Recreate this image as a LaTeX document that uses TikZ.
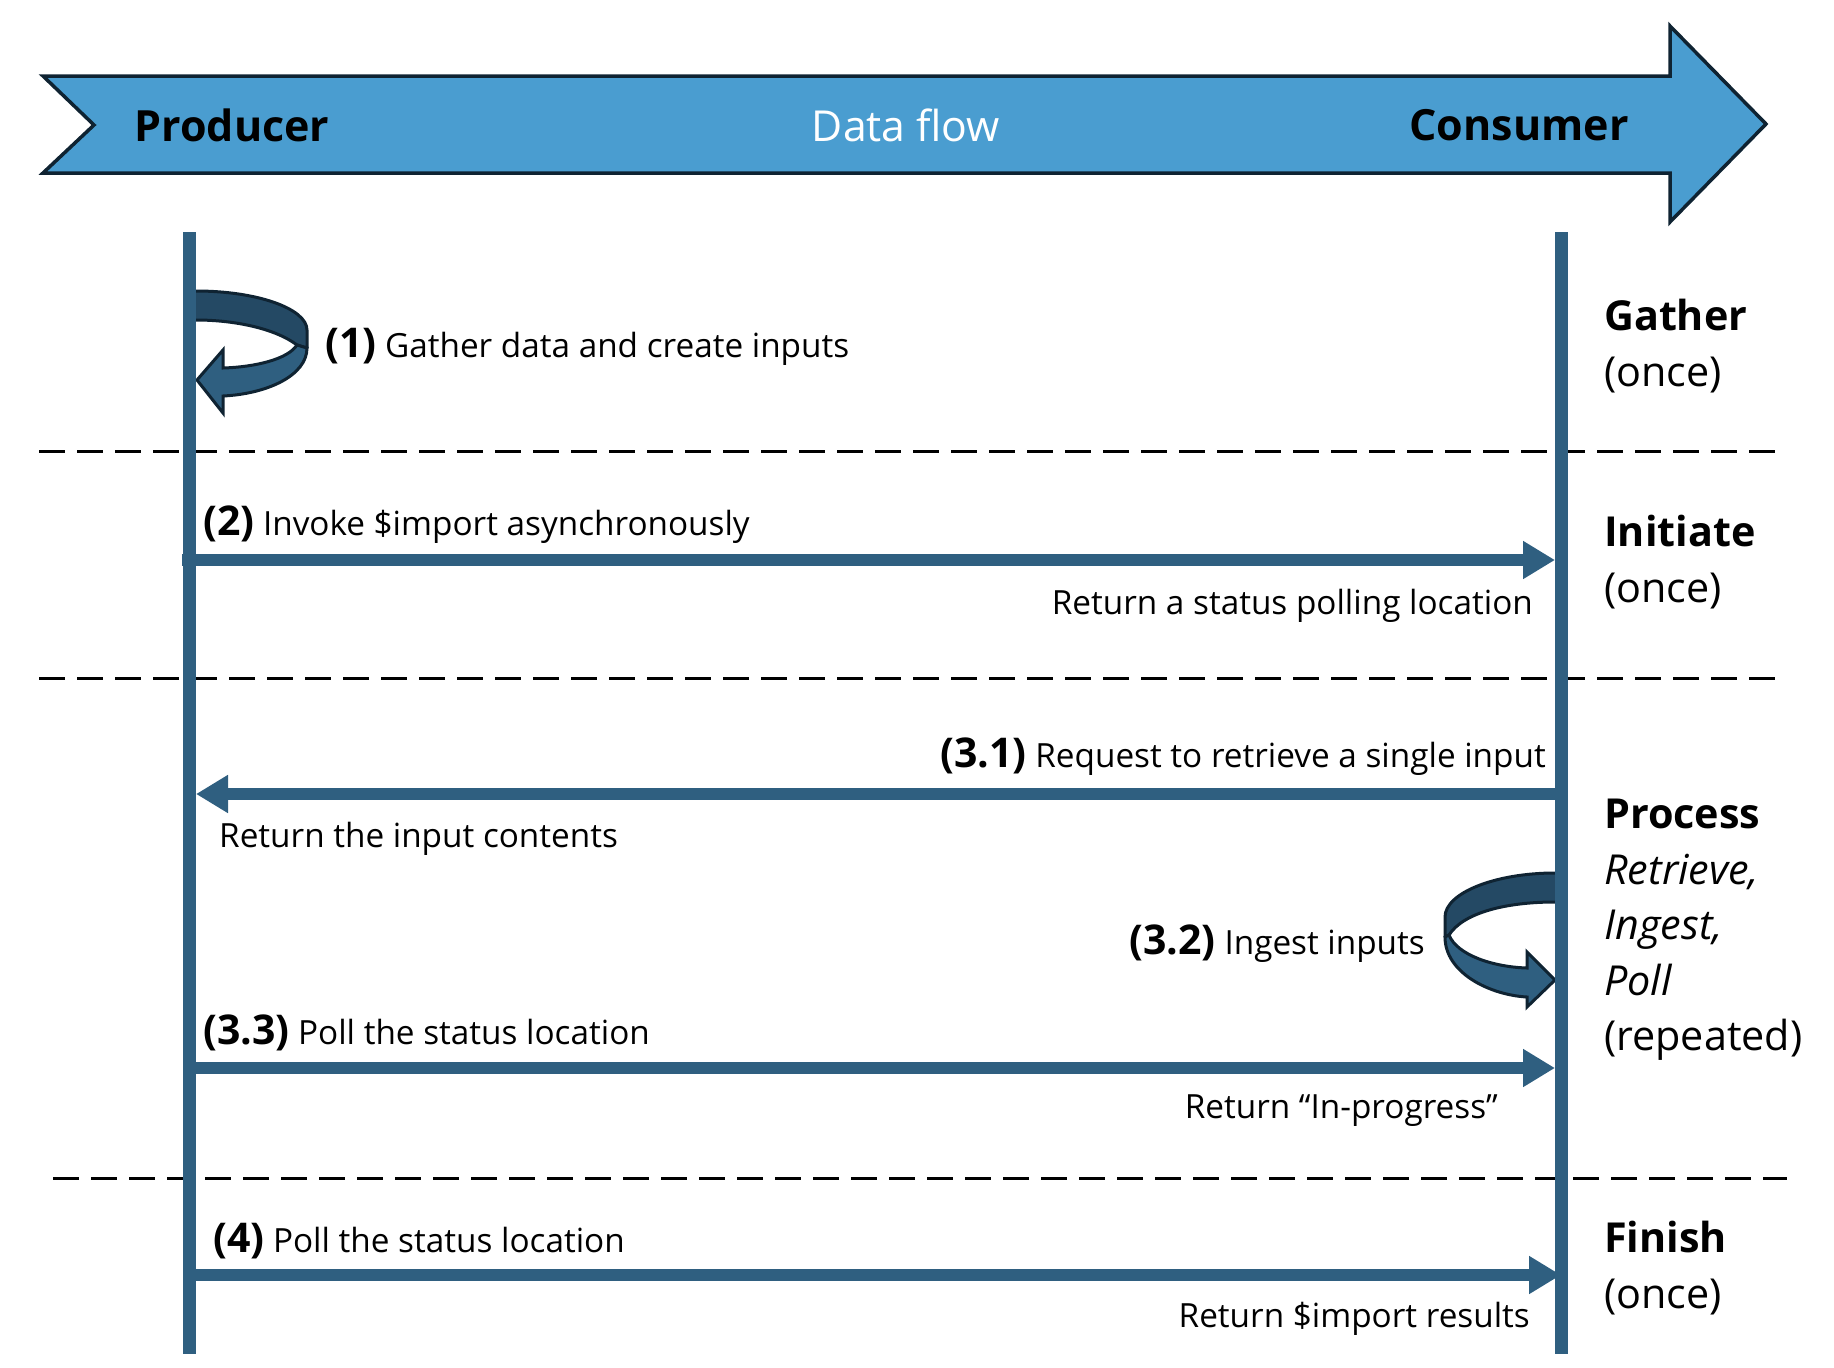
\documentclass[tikz,border=0pt]{standalone}
\usepackage{fontspec}
\setmainfont{Open Sans}
\usetikzlibrary{arrows.meta,positioning}
\definecolor{lifeb}{RGB}{47,95,128}
\definecolor{flowb}{RGB}{74,157,208}
\definecolor{edged}{RGB}{15,35,50}
\definecolor{loopd}{RGB}{36,73,100}
\newcommand{\msgno}[1]{{\fontsize{41}{46}\selectfont\bfseries #1}}
\tikzset{
	banner/.style={fill=flowb, draw=edged, line width=3.5pt, line join=miter},
	headtxt/.style={font=\fontsize{43}{48}\selectfont\bfseries, inner sep=0pt},
	lifeline/.style={draw=lifeb, line width=13pt},
	msg/.style={draw=lifeb, line width=11.5pt, -{Triangle[length=32pt,width=36pt]}},
	phasesep/.style={draw=black, line width=3pt, dash pattern=on 26pt off 12pt},
	lbl/.style={font=\fontsize{33.3}{39}\selectfont, inner sep=0pt},
	phase/.style={font=\fontsize{41.3}{55.5}\selectfont, align=left, inner sep=0pt, anchor=west},
	loopback/.style={fill=loopd, draw=edged, line width=3pt, line join=round},
	loopfront/.style={fill=lifeb, draw=edged, line width=3pt, line join=miter}
}
\begin{document}
\begin{tikzpicture}[x=1pt,y=-1pt]
	\useasboundingbox (0,0) rectangle (1834,1368);
	% banner
	\filldraw[banner] (43,76) -- (1670,76) -- (1670,26) -- (1766,124) -- (1670,222) -- (1670,173) -- (43,173) -- (94,125) -- cycle;
	\node[headtxt] (prod) at (232,125) {Producer};
	\node[headtxt, font=\fontsize{42.7}{48}\selectfont, text=white] (flow) at (906,125) {Data flow};
	\node[headtxt] (cons) at (1519,125) {Consumer};
	% phase separators
	\draw[phasesep] (39,451) -- (1775,451);
	\draw[phasesep] (39,678) -- (1775,678);
	\draw[phasesep] (53,1178) -- (1787,1178);
	% self loops
	\begin{scope}[shift={(196,291)}]
		\filldraw[loopback] (-8,0) -- (0,0) .. controls (62,0) and (111,18) .. (111,39) -- (111,57) -- (101,54) .. controls (80,38) and (40,29) .. (0,29) -- (-8,29) -- cycle;
		\filldraw[loopfront] (101,54) -- (111,57) .. controls (111,85) and (70,103) .. (27,105) -- (27,122) -- (1,89) -- (27,59) -- (27,77) .. controls (60,76) and (92,68) .. (101,54) -- cycle;
	\end{scope}
	\begin{scope}[shift={(1555,873)}, xscale=-1]
		\filldraw[loopback] (-8,0) -- (0,0) .. controls (60,0) and (110,20) .. (110,44) -- (110,64) -- (106,62) .. controls (92,40) and (50,29) .. (0,29) -- (-8,29) -- cycle;
		\filldraw[loopfront] (106,62) -- (110,64) .. controls (110,100) and (65,122) .. (28,124) -- (28,134) -- (0,107) -- (28,79) -- (28,95) .. controls (62,94) and (98,82) .. (106,62) -- cycle;
	\end{scope}
	% lifelines
	\coordinate (ptop) at (189,232);
	\coordinate (pbot) at (189,1354);
	\coordinate (ctop) at (1561,232);
	\coordinate (cbot) at (1561,1354);
	\draw[lifeline] (ptop) -- (pbot);
	\draw[lifeline] (ctop) -- (cbot);
	% messages
	\coordinate (p2) at (182,560);
	\coordinate (c2) at (1555,560);
	\coordinate (c31) at (1561,794);
	\coordinate (p31) at (196,794);
	\coordinate (p33) at (189,1068);
	\coordinate (c33) at (1555,1068);
	\coordinate (p4) at (189,1275);
	\coordinate (c4) at (1561,1275);
	\draw[msg] (p2) -- (c2);
	\draw[msg] (c31) -- (p31);
	\draw[msg] (p33) -- (c33);
	\draw[msg] (p4) -- (c4);
	% labels
	\node[lbl, anchor=west] (l1) at (325,347) {\msgno{(1)} Gather data and create inputs};
	\node[lbl, anchor=west] (l2) at (203,525) {\msgno{(2)} Invoke \$import asynchronously};
	\node[lbl, anchor=east] (r2) at (1533,606) {Return a status polling location};
	\node[lbl, anchor=east] (l31) at (1546,757) {\msgno{(3.1)} Request to retrieve a single input};
	\node[lbl, anchor=west] (r31) at (219,839) {Return the input contents};
	\node[lbl, anchor=east] (l32) at (1425,944) {\msgno{(3.2)} Ingest inputs};
	\node[lbl, anchor=west] (l33) at (203,1033) {\msgno{(3.3)} Poll the status location};
	\node[lbl, anchor=east] (r33) at (1498,1111) {Return “In-progress”};
	\node[lbl, anchor=west] (l4) at (213,1241) {\msgno{(4)} Poll the status location};
	\node[lbl, anchor=east] (r4) at (1530,1319) {Return \$import results};
	% phases
	\node[phase] (gather) at (1604,346) {\textbf{Gather}\\(once)};
	\node[phase] (initiate) at (1604,562) {\textbf{Initiate}\\(once)};
	\node[phase] (process) at (1604,930) {\textbf{Process}\\\textit{Retrieve,}\\\textit{Ingest,}\\\textit{Poll}\\(repeated)};
	\node[phase] (finish) at (1604,1268) {\textbf{Finish}\\(once)};
\end{tikzpicture}
\end{document}
